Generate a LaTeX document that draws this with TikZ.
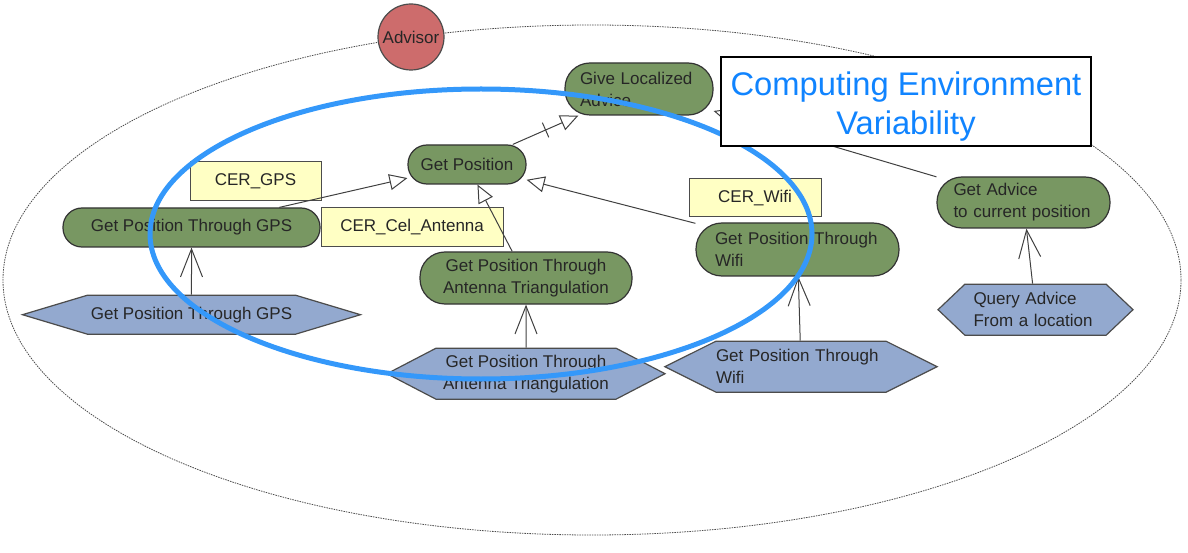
\documentclass[tikz,border=0pt]{standalone}
\usepackage{fontspec}
\setmainfont{Liberation Sans}
\usetikzlibrary{arrows.meta, positioning, shapes.symbols, decorations.markings}

\definecolor{goalgreen}{RGB}{120,151,98}
\definecolor{taskblue}{RGB}{147,169,207}
\definecolor{ceryellow}{RGB}{255,255,196}
\definecolor{actorred}{RGB}{205,108,108}
\definecolor{markblue}{RGB}{52,152,250}
\definecolor{titleblue}{RGB}{16,132,255}

\tikzset{
  goal/.style={draw=black!80, fill=goalgreen, line width=1.2pt, text=black!85},
  task/.style={shape=signal, signal to=west and east, draw=black!70, fill=taskblue,
    line width=1.2pt, text=black!85, inner sep=0pt},
  cer/.style={draw=black!70, fill=ceryellow, line width=1pt, minimum height=39pt, text=black!85},
  actor/.style={circle, draw=black!70, fill=actorred, line width=1.2pt, minimum size=66pt,
    inner sep=0pt, text=black!85},
  boundary/.style={black!70, line width=0.8pt, dash pattern=on 1.5pt off 1pt},
  means/.style={-{Triangle[open, length=18pt, width=16pt]}, line width=1pt, black!75},
  decomp/.style={-{Straight Barb[length=28pt, width=22pt]}, line width=1pt, black!75},
  cutmark/.style={postaction={decorate, decoration={markings,
    mark=at position 0.5 with {\draw[-, line width=1pt] (0,-8pt) -- (0,8pt);}}}},
  titlebox/.style={draw=black, fill=white, line width=1.5pt, text=titleblue, align=center,
    minimum width=370pt, minimum height=89pt, font=\fontsize{32.7}{39}\selectfont}
}

\begin{document}
\begin{tikzpicture}[x=1pt, y=1pt, every node/.style={font=\fontsize{17}{22}\selectfont}]
\useasboundingbox (0,0) rectangle (1188,-553);

% boundary of the actor
  \draw[boundary] (592,-280) ellipse [x radius=589, y radius=255];
  \node[actor] (advisor) at (411,-37) {Advisor};

% define the goals
  \node[goal, minimum width=148pt, minimum height=52pt, rounded corners=25pt,
    text width=118pt, inner xsep=15pt, align=left] (give) at (639,-89)
{Give Localized\\Advice};
  \node[goal, minimum width=118pt, minimum height=39pt, rounded corners=19pt] (getpos) at (467,-164.5)
{Get Position};
  \node[goal, minimum width=257pt, minimum height=39pt, rounded corners=19pt] (gpsgoal) at (191.5,-227.5)
{Get Position Through GPS};
  \node[goal, minimum width=212pt, minimum height=52pt, rounded corners=25pt, align=center] (antgoal) at (526,-278)
{Get Position Through\\Antenna Triangulation};
  \node[goal, minimum width=203pt, minimum height=53pt, rounded corners=26pt,
    text width=165pt, inner xsep=19pt, align=left] (wifigoal) at (797.5,-249.5)
{Get Position Through\\Wifi};
  \node[goal, minimum width=173pt, minimum height=51pt, rounded corners=25pt,
    text width=140pt, inner xsep=16.5pt, align=left] (advgoal) at (1023.5,-202.5)
{Get Advice\\to current position};

% define the contexts
  \node[cer, minimum width=131pt] (cergps) at (255.5,-181.5) {CER\_GPS};
  \node[cer, minimum width=182pt] (cerant) [right=0pt of gpsgoal] {CER\_Cel\_Antenna};
  \node[cer, minimum width=132pt, minimum height=38pt] (cerwifi) at (755,-198) {CER\_Wifi};

% define the tasks
  \node[task, minimum width=338pt, minimum height=39pt, signal pointer angle=33.4] (gpstask)
    [below=47pt of gpsgoal] {Get Position Through GPS};
  \node[task, minimum width=278pt, minimum height=51pt, signal pointer angle=55, align=center] (anttask)
    [below=43pt of antgoal] {Get Position Through\\Antenna Triangulation};
  \node[task, minimum width=268pt, minimum height=51pt, signal pointer angle=53,
    text width=170pt, align=left] (wifitask)
    [below=64pt of wifigoal, xshift=3.5pt] {Get Position Through\\Wifi};
  \node[task, minimum width=195pt, minimum height=51pt, signal pointer angle=87,
    text width=124pt, align=left] (querytask)
    [below=55pt of advgoal, xshift=12pt] {Query Advice\\From a location};

% define the links
  \path[means] (gpsgoal) edge (getpos)
        (antgoal) edge (getpos)
        (wifigoal) edge (getpos)
        (advgoal) edge (give);
  \draw[means, cutmark] (getpos) -- (give);
  \path[decomp] (gpstask) edge (gpsgoal)
        (anttask) edge (antgoal)
        (wifitask) edge (wifigoal)
        (querytask) edge (advgoal);

% highlight
  \draw[markblue, line width=5pt] (481,-234) ellipse [x radius=331, y radius=145];
  \node[titlebox] (cev) at (906,-101.5) {\rule{0pt}{34pt}Computing Environment\\Variability};

\end{tikzpicture}
\end{document}
